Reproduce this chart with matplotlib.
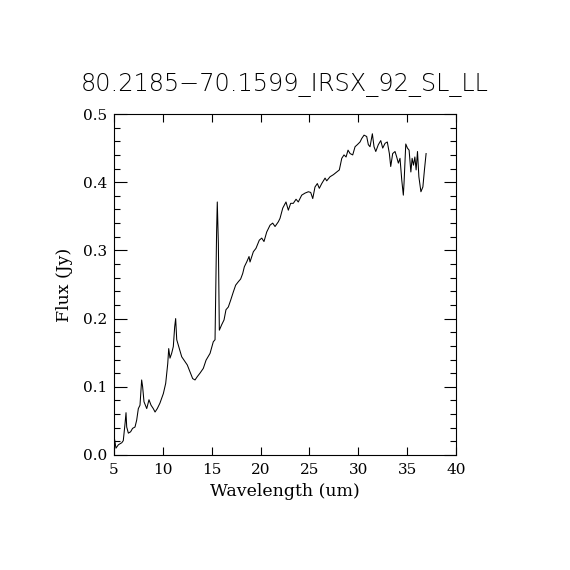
import matplotlib
matplotlib.use("Agg")
import matplotlib.pyplot as plt
from matplotlib.ticker import MultipleLocator

wavelength = [5.07, 5.2, 5.45, 5.8, 5.95, 6.13, 6.23, 6.3, 6.47, 6.7, 6.9, 7.15, 7.32, 7.49, 7.66,
              7.83, 7.93, 8.07, 8.35, 8.58, 8.79, 9.02, 9.2, 9.43, 9.7, 10.05, 10.29, 10.5, 10.6,
              10.73, 10.9, 11.07, 11.21, 11.31, 11.42, 11.68, 11.93, 12.27, 12.5, 12.78, 13.05,
              13.29, 13.53, 13.8, 14.14, 14.42, 14.83, 15.16, 15.34, 15.4, 15.5, 15.57, 15.68,
              15.78, 16.02, 16.26, 16.46, 16.7, 16.94, 17.21, 17.45, 17.72, 17.96, 18.17, 18.34,
              18.58, 18.82, 18.92, 19.26, 19.53, 19.87, 20.12, 20.35, 20.63, 20.97, 21.24, 21.48,
              21.82, 21.99, 22.27, 22.6, 22.84, 23.08, 23.35, 23.63, 23.86, 24.21, 24.55, 24.89,
              25.13, 25.34, 25.57, 25.81, 26.01, 26.26, 26.6, 26.77, 27.11, 27.45, 27.79, 28.06,
              28.31, 28.54, 28.75, 28.95, 29.16, 29.43, 29.67, 29.9, 30.18, 30.35, 30.59, 30.86,
              31.03, 31.2, 31.44, 31.61, 31.79, 32.05, 32.3, 32.5, 32.74, 32.97, 33.18, 33.32,
              33.52, 33.76, 33.93, 34.1, 34.27, 34.45, 34.61, 34.68, 34.86, 35.03, 35.2, 35.38,
              35.51, 35.65, 35.79, 35.92, 36.06, 36.2, 36.41, 36.61, 36.77, 36.94]
flux = [0.022, 0.010, 0.015, 0.018, 0.021, 0.046, 0.062, 0.041, 0.032, 0.034, 0.039, 0.041, 0.051,
        0.068, 0.073, 0.110, 0.100, 0.078, 0.068, 0.081, 0.073, 0.068, 0.063, 0.068, 0.076, 0.090,
        0.105, 0.134, 0.156, 0.142, 0.149, 0.159, 0.188, 0.200, 0.169, 0.156, 0.144, 0.137, 0.132,
        0.122, 0.112, 0.110, 0.115, 0.120, 0.127, 0.139, 0.149, 0.166, 0.169, 0.232, 0.327, 0.371,
        0.310, 0.183, 0.191, 0.198, 0.213, 0.217, 0.227, 0.239, 0.249, 0.254, 0.258, 0.266, 0.276,
        0.283, 0.291, 0.283, 0.298, 0.303, 0.315, 0.318, 0.313, 0.327, 0.337, 0.340, 0.335, 0.342,
        0.347, 0.362, 0.371, 0.359, 0.369, 0.369, 0.375, 0.371, 0.381, 0.384, 0.386, 0.385, 0.376,
        0.393, 0.398, 0.391, 0.398, 0.406, 0.402, 0.408, 0.411, 0.415, 0.418, 0.435, 0.440, 0.437,
        0.447, 0.442, 0.440, 0.452, 0.455, 0.459, 0.464, 0.469, 0.467, 0.455, 0.452, 0.471, 0.452,
        0.445, 0.455, 0.461, 0.450, 0.457, 0.459, 0.442, 0.423, 0.442, 0.445, 0.437, 0.428, 0.435,
        0.403, 0.381, 0.398, 0.456, 0.450, 0.447, 0.415, 0.435, 0.425, 0.437, 0.418, 0.445, 0.408,
        0.386, 0.393, 0.418, 0.442]

title = "80.2185\u221270.1599_IRSX_92_SL_LL"
xlabel = "Wavelength (um)"
ylabel = "Flux (Jy)"

fig = plt.figure(figsize=(5.7, 5.7), dpi=100)
ax = fig.add_axes([0.2, 0.2018, 0.6, 0.5982])
ax.plot(wavelength, flux, color="black", lw=0.75)
ax.set_xlim(5, 40)
ax.set_ylim(0, 0.5)
ax.xaxis.set_major_locator(MultipleLocator(5))
ax.yaxis.set_major_locator(MultipleLocator(0.1))
ax.yaxis.set_minor_locator(MultipleLocator(0.02))
ax.yaxis.set_major_formatter(matplotlib.ticker.FormatStrFormatter("%.1f"))
ax.tick_params(axis="both", which="both", direction="in", top=True, right=True,
               width=0.8, labelsize=11)
ax.tick_params(axis="x", which="major", length=6, pad=6)
ax.tick_params(axis="y", which="major", length=9, pad=5)
ax.tick_params(axis="y", which="minor", length=4.5)
for lab in ax.get_xticklabels() + ax.get_yticklabels():
    lab.set_family("DejaVu Serif")
for s in ax.spines.values():
    s.set_linewidth(0.8)
ax.set_xlabel(xlabel, family="DejaVu Serif", fontsize=12.5, labelpad=4)
ax.set_ylabel(ylabel, family="DejaVu Serif", fontsize=12.5, labelpad=7)
fig.text(0.5, 0.851, title, ha="center", va="center", fontsize=17.3, family="DejaVu Sans",
         fontweight="light")
fig.savefig("out.png", dpi=100)
